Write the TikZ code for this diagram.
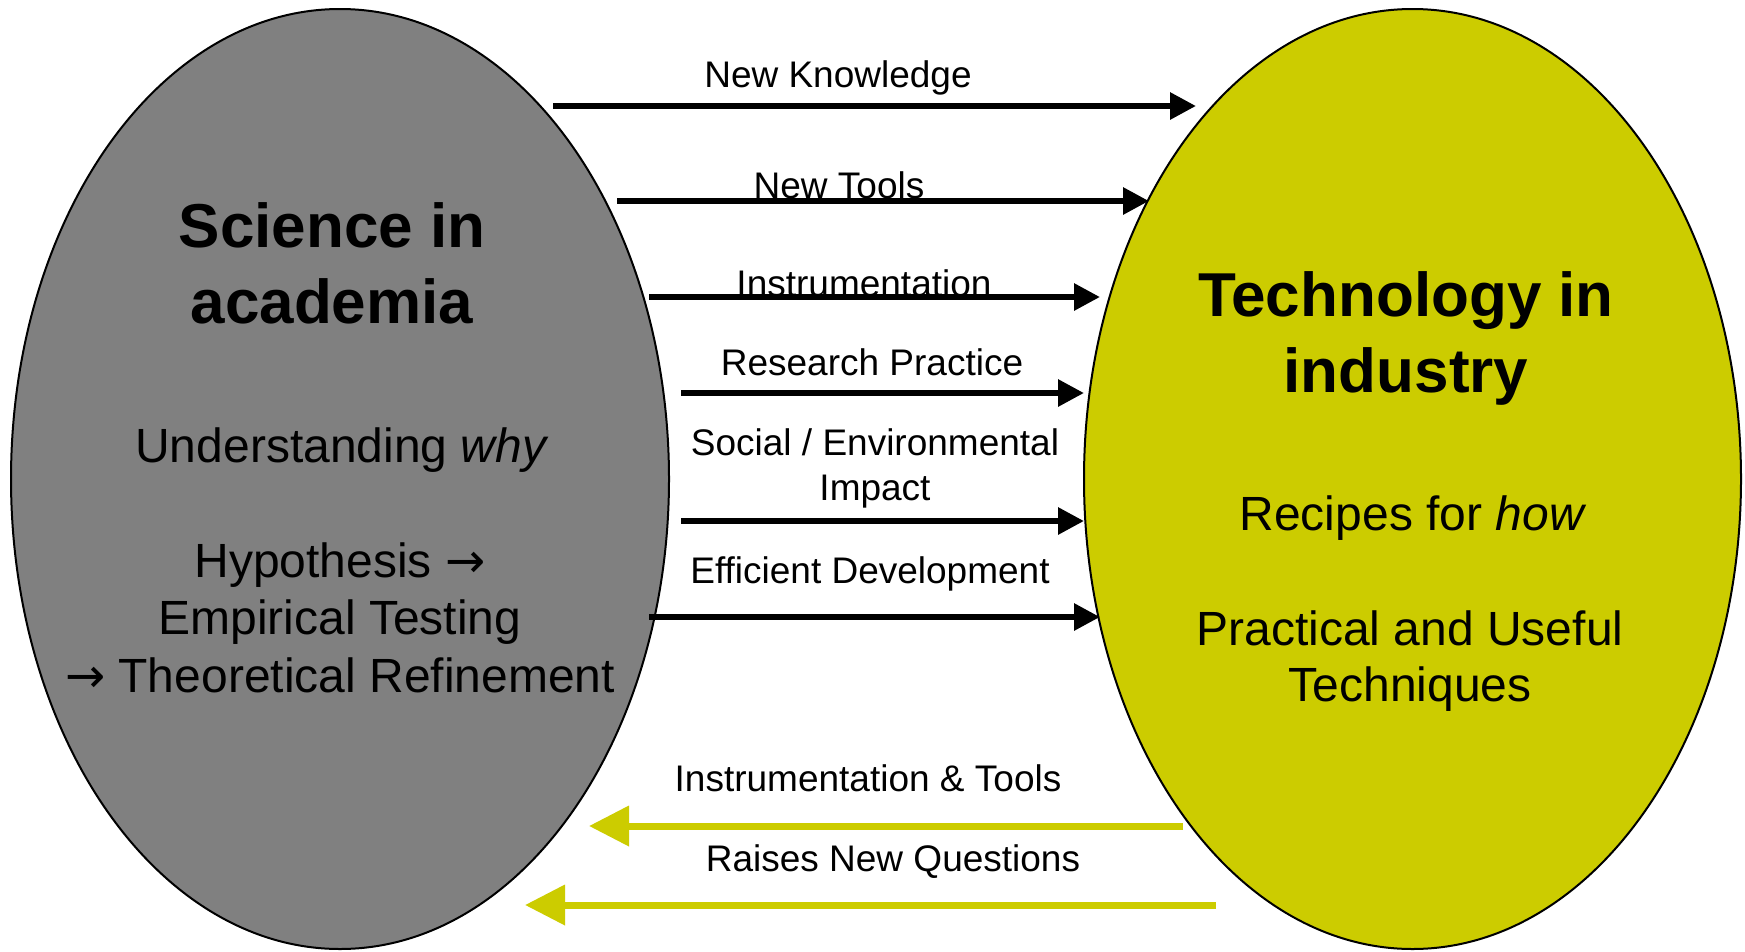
\documentclass[tikz,border=0pt]{standalone}
\usepackage{fontspec}
\setmainfont{Liberation Sans}
\newfontfamily\arrowfont{DejaVu Sans}
\newcommand{\rarr}{{\arrowfont →}}
\usetikzlibrary{shapes.geometric,arrows.meta}
\definecolor{scigray}{HTML}{808080}
\definecolor{techyel}{HTML}{CCCC00}
\tikzset{
  blob/.style={ellipse, draw=black, line width=2pt, inner sep=0pt},
  title/.style={font=\fontsize{62}{76}\selectfont\bfseries, align=center, anchor=base},
  body/.style={font=\fontsize{48}{57.5}\selectfont, align=center, anchor=base},
  lab/.style={font=\fontsize{37}{45}\selectfont, align=center, anchor=base},
  fwd/.style={line width=6pt, draw=black, -{Triangle[length=26pt,width=26pt]}},
  back/.style={line width=7pt, draw=techyel, -{Triangle[length=40pt,width=39pt]}},
}
\begin{document}
\begin{tikzpicture}[x=1pt,y=-1pt]
\useasboundingbox[fill=white] (0,0) rectangle (1745,951);
% ellipses
\node[blob, fill=scigray, minimum width=658pt, minimum height=940pt] (sci) at (340,479) {};
\node[blob, fill=techyel, minimum width=657pt, minimum height=940pt] (tech) at (1412.5,479) {};
% texts in ellipses (anchor base = baseline of last line)
\node[title] (scititle) at (332,323) {Science in\\academia};
\node[body] (why) at (342,462) {Understanding \textit{why}};
\node[body] (hyp) at (340,692) {Hypothesis \rarr\\Empirical Testing\\\rarr\ Theoretical Refinement};
\node[title] (techtitle) at (1406,392) {Technology in\\industry};
\node[body] (how) at (1413,530) {Recipes for \textit{how}};
\node[body, font=\fontsize{48}{56}\selectfont] (prac) at (1410,701) {Practical and Useful\\Techniques};
% arrow end points
\coordinate (a1s) at (553,106);  \coordinate (a1e) at (1196,106);
\coordinate (a2s) at (617,201);  \coordinate (a2e) at (1149,201);
\coordinate (a3s) at (649,297);  \coordinate (a3e) at (1100,297);
\coordinate (a4s) at (681,393);  \coordinate (a4e) at (1084,393);
\coordinate (a5s) at (681,521);  \coordinate (a5e) at (1084,521);
\coordinate (a6s) at (649,617);  \coordinate (a6e) at (1100,617);
\coordinate (b1s) at (1183,826); \coordinate (b1e) at (589,826);
\coordinate (b2s) at (1216,905); \coordinate (b2e) at (525,905);
\draw[fwd] (a1s) -- (a1e);
\draw[fwd] (a2s) -- (a2e);
\draw[fwd] (a3s) -- (a3e);
\draw[fwd] (a4s) -- (a4e);
\draw[fwd] (a5s) -- (a5e);
\draw[fwd] (a6s) -- (a6e);
\draw[back] (b1s) -- (b1e);
\draw[back] (b2s) -- (b2e);
% labels
\node[lab] (l1) at (838,87) {New Knowledge};
\node[lab] (l2) at (839,198) {New Tools};
\node[lab] (l3) at (864,296) {Instrumentation};
\node[lab] (l4) at (872,375) {Research Practice};
\node[lab] (l5) at (875,500) {Social / Environmental\\Impact};
\node[lab] (l6) at (870,583) {Efficient Development};
\node[lab] (l7) at (868,791) {Instrumentation \& Tools};
\node[lab] (l8) at (893,871) {Raises New Questions};
\end{tikzpicture}
\end{document}
